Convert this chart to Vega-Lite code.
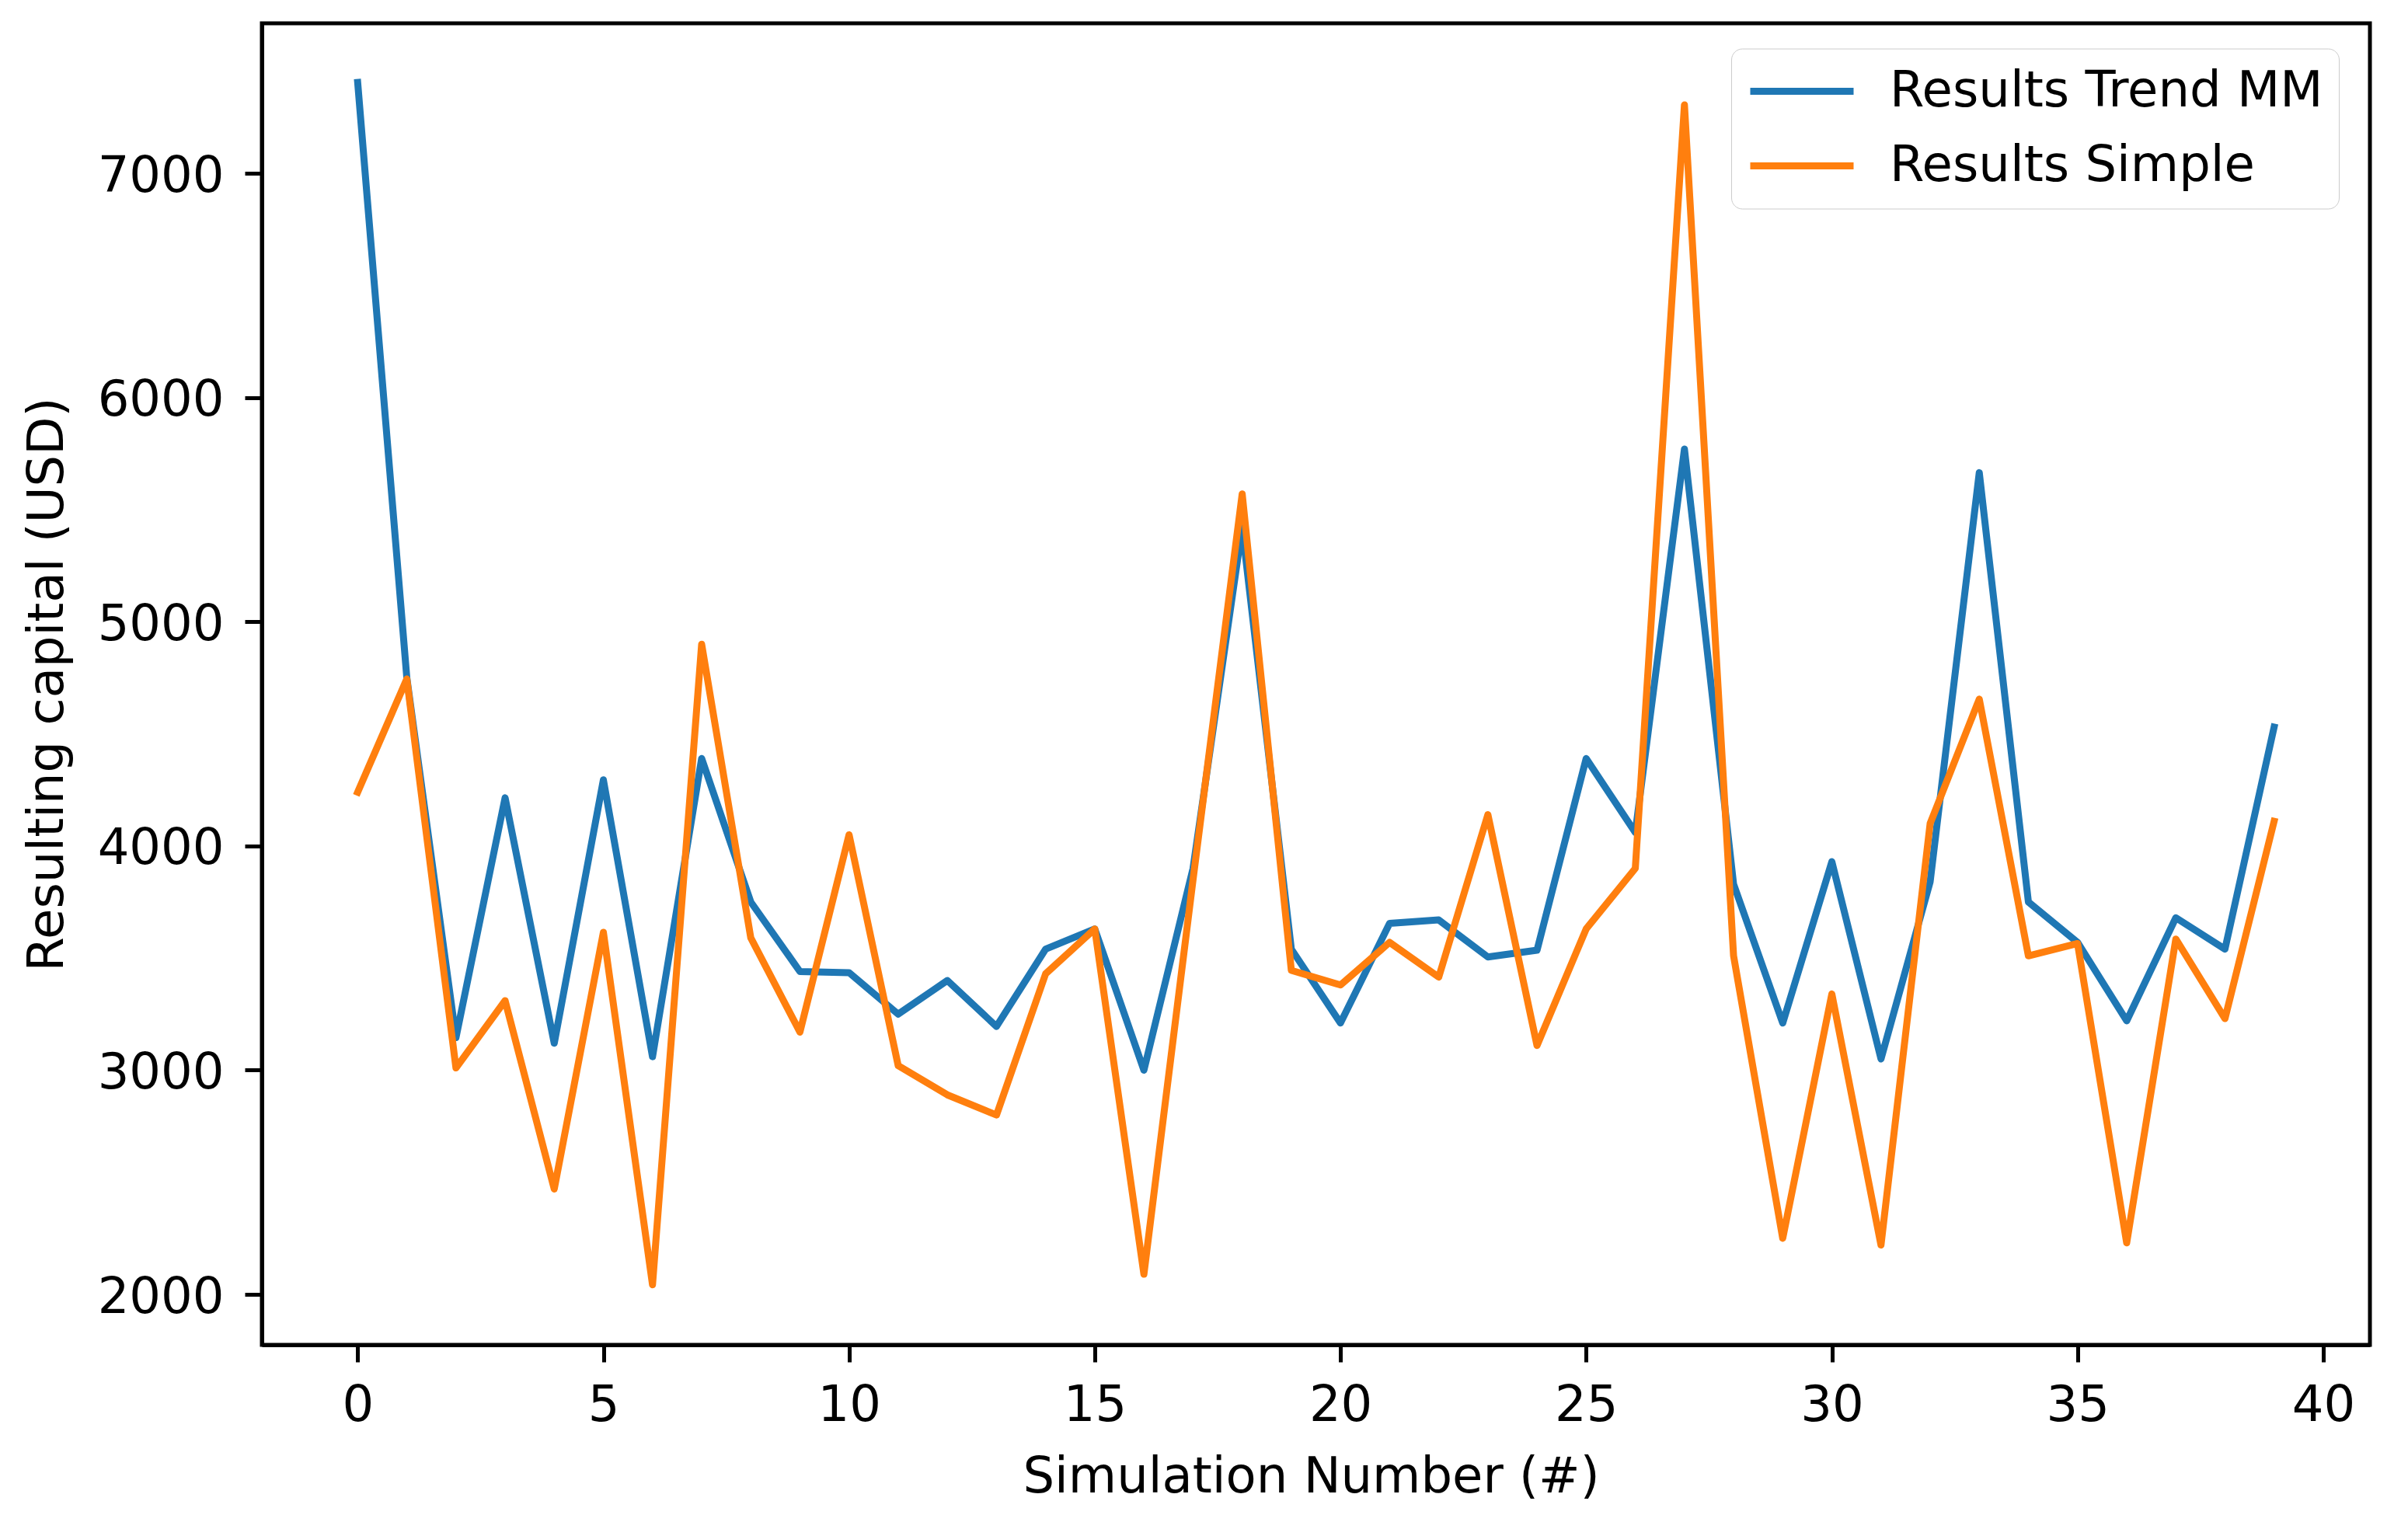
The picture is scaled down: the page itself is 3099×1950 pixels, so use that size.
{
  "$schema": "https://vega.github.io/schema/vega-lite/v6.json",
  "width": 2713,
  "height": 1701,
  "autosize": {"type": "none"},
  "padding": {"left": 337, "top": 30, "right": 49, "bottom": 219},
  "background": "white",
  "config": {
    "font": "DejaVu Sans",
    "view": {"stroke": "#000000", "strokeWidth": 5},
    "axis": {
      "grid": false,
      "domainColor": "#000000",
      "domainWidth": 5,
      "tickColor": "#000000",
      "tickWidth": 5,
      "tickSize": 22,
      "labelFont": "DejaVu Sans",
      "labelFontSize": 64,
      "labelColor": "#000000",
      "titleFont": "DejaVu Sans",
      "titleFontSize": 64,
      "titleFontWeight": "normal",
      "titleColor": "#000000"
    }
  },
  "data": {
    "values": [
      {"sim": 0, "series": "Results Trend MM", "capital": 7405},
      {"sim": 1, "series": "Results Trend MM", "capital": 4750},
      {"sim": 2, "series": "Results Trend MM", "capital": 3145},
      {"sim": 3, "series": "Results Trend MM", "capital": 4215},
      {"sim": 4, "series": "Results Trend MM", "capital": 3120},
      {"sim": 5, "series": "Results Trend MM", "capital": 4295},
      {"sim": 6, "series": "Results Trend MM", "capital": 3060},
      {"sim": 7, "series": "Results Trend MM", "capital": 4390},
      {"sim": 8, "series": "Results Trend MM", "capital": 3750},
      {"sim": 9, "series": "Results Trend MM", "capital": 3440},
      {"sim": 10, "series": "Results Trend MM", "capital": 3435},
      {"sim": 11, "series": "Results Trend MM", "capital": 3250},
      {"sim": 12, "series": "Results Trend MM", "capital": 3400},
      {"sim": 13, "series": "Results Trend MM", "capital": 3195},
      {"sim": 14, "series": "Results Trend MM", "capital": 3540},
      {"sim": 15, "series": "Results Trend MM", "capital": 3630},
      {"sim": 16, "series": "Results Trend MM", "capital": 3000},
      {"sim": 17, "series": "Results Trend MM", "capital": 3900},
      {"sim": 18, "series": "Results Trend MM", "capital": 5420},
      {"sim": 19, "series": "Results Trend MM", "capital": 3540},
      {"sim": 20, "series": "Results Trend MM", "capital": 3210},
      {"sim": 21, "series": "Results Trend MM", "capital": 3655},
      {"sim": 22, "series": "Results Trend MM", "capital": 3670},
      {"sim": 23, "series": "Results Trend MM", "capital": 3505},
      {"sim": 24, "series": "Results Trend MM", "capital": 3535},
      {"sim": 25, "series": "Results Trend MM", "capital": 4390},
      {"sim": 26, "series": "Results Trend MM", "capital": 4060},
      {"sim": 27, "series": "Results Trend MM", "capital": 5770},
      {"sim": 28, "series": "Results Trend MM", "capital": 3830},
      {"sim": 29, "series": "Results Trend MM", "capital": 3210},
      {"sim": 30, "series": "Results Trend MM", "capital": 3930},
      {"sim": 31, "series": "Results Trend MM", "capital": 3050},
      {"sim": 32, "series": "Results Trend MM", "capital": 3840},
      {"sim": 33, "series": "Results Trend MM", "capital": 5665},
      {"sim": 34, "series": "Results Trend MM", "capital": 3750},
      {"sim": 35, "series": "Results Trend MM", "capital": 3570},
      {"sim": 36, "series": "Results Trend MM", "capital": 3220},
      {"sim": 37, "series": "Results Trend MM", "capital": 3680},
      {"sim": 38, "series": "Results Trend MM", "capital": 3540},
      {"sim": 39, "series": "Results Trend MM", "capital": 4530},
      {"sim": 0, "series": "Results Simple", "capital": 4240},
      {"sim": 1, "series": "Results Simple", "capital": 4745},
      {"sim": 2, "series": "Results Simple", "capital": 3010},
      {"sim": 3, "series": "Results Simple", "capital": 3310},
      {"sim": 4, "series": "Results Simple", "capital": 2470},
      {"sim": 5, "series": "Results Simple", "capital": 3615},
      {"sim": 6, "series": "Results Simple", "capital": 2043},
      {"sim": 7, "series": "Results Simple", "capital": 4900},
      {"sim": 8, "series": "Results Simple", "capital": 3590},
      {"sim": 9, "series": "Results Simple", "capital": 3170},
      {"sim": 10, "series": "Results Simple", "capital": 4050},
      {"sim": 11, "series": "Results Simple", "capital": 3020},
      {"sim": 12, "series": "Results Simple", "capital": 2890},
      {"sim": 13, "series": "Results Simple", "capital": 2800},
      {"sim": 14, "series": "Results Simple", "capital": 3430},
      {"sim": 15, "series": "Results Simple", "capital": 3630},
      {"sim": 16, "series": "Results Simple", "capital": 2090},
      {"sim": 17, "series": "Results Simple", "capital": 3850},
      {"sim": 18, "series": "Results Simple", "capital": 5570},
      {"sim": 19, "series": "Results Simple", "capital": 3445},
      {"sim": 20, "series": "Results Simple", "capital": 3380},
      {"sim": 21, "series": "Results Simple", "capital": 3570},
      {"sim": 22, "series": "Results Simple", "capital": 3415},
      {"sim": 23, "series": "Results Simple", "capital": 4140},
      {"sim": 24, "series": "Results Simple", "capital": 3110},
      {"sim": 25, "series": "Results Simple", "capital": 3630},
      {"sim": 26, "series": "Results Simple", "capital": 3900},
      {"sim": 27, "series": "Results Simple", "capital": 7305},
      {"sim": 28, "series": "Results Simple", "capital": 3510},
      {"sim": 29, "series": "Results Simple", "capital": 2250},
      {"sim": 30, "series": "Results Simple", "capital": 3340},
      {"sim": 31, "series": "Results Simple", "capital": 2220},
      {"sim": 32, "series": "Results Simple", "capital": 4100},
      {"sim": 33, "series": "Results Simple", "capital": 4655},
      {"sim": 34, "series": "Results Simple", "capital": 3510},
      {"sim": 35, "series": "Results Simple", "capital": 3565},
      {"sim": 36, "series": "Results Simple", "capital": 2230},
      {"sim": 37, "series": "Results Simple", "capital": 3585},
      {"sim": 38, "series": "Results Simple", "capital": 3230},
      {"sim": 39, "series": "Results Simple", "capital": 4110}
    ]
  },
  "mark": {"type": "line", "strokeWidth": 9, "strokeJoin": "round", "strokeCap": "square", "clip": true},
  "encoding": {
    "x": {
      "field": "sim",
      "type": "quantitative",
      "scale": {"domain": [-1.95, 40.95], "nice": false, "zero": false},
      "axis": {
        "title": "Simulation Number (#)",
        "values": [0, 5, 10, 15, 20, 25, 30, 35, 40],
        "format": "d",
        "labelPadding": 24,
        "titleX": 1350,
        "titleY": 189,
        "titleBaseline": "alphabetic"
      }
    },
    "y": {
      "field": "capital",
      "type": "quantitative",
      "scale": {"domain": [1775, 7669], "nice": false, "zero": false},
      "axis": {
        "title": "Resulting capital (USD)",
        "values": [2000, 3000, 4000, 5000, 6000, 7000],
        "format": "d",
        "labelPadding": 27,
        "labelOffset": 4,
        "titleX": -257,
        "titleBaseline": "alphabetic"
      }
    },
    "color": {
      "field": "series",
      "type": "nominal",
      "sort": ["Results Trend MM", "Results Simple"],
      "scale": {"domain": ["Results Trend MM", "Results Simple"], "range": ["#1f77b4", "#ff7f0e"]},
      "legend": {
        "title": null,
        "orient": "none",
        "legendX": 1891,
        "legendY": 32.5,
        "symbolType": "stroke",
        "symbolSize": 17689,
        "symbolStrokeWidth": 9,
        "labelFont": "DejaVu Sans",
        "labelFontSize": 64,
        "labelColor": "#000000",
        "labelLimit": 2000,
        "labelOffset": 42,
        "padding": 20,
        "clipHeight": 70,
        "rowPadding": 26,
        "strokeColor": "#cccccc",
        "fillColor": "rgba(255,255,255,0.8)",
        "cornerRadius": 14
      }
    }
  }
}
